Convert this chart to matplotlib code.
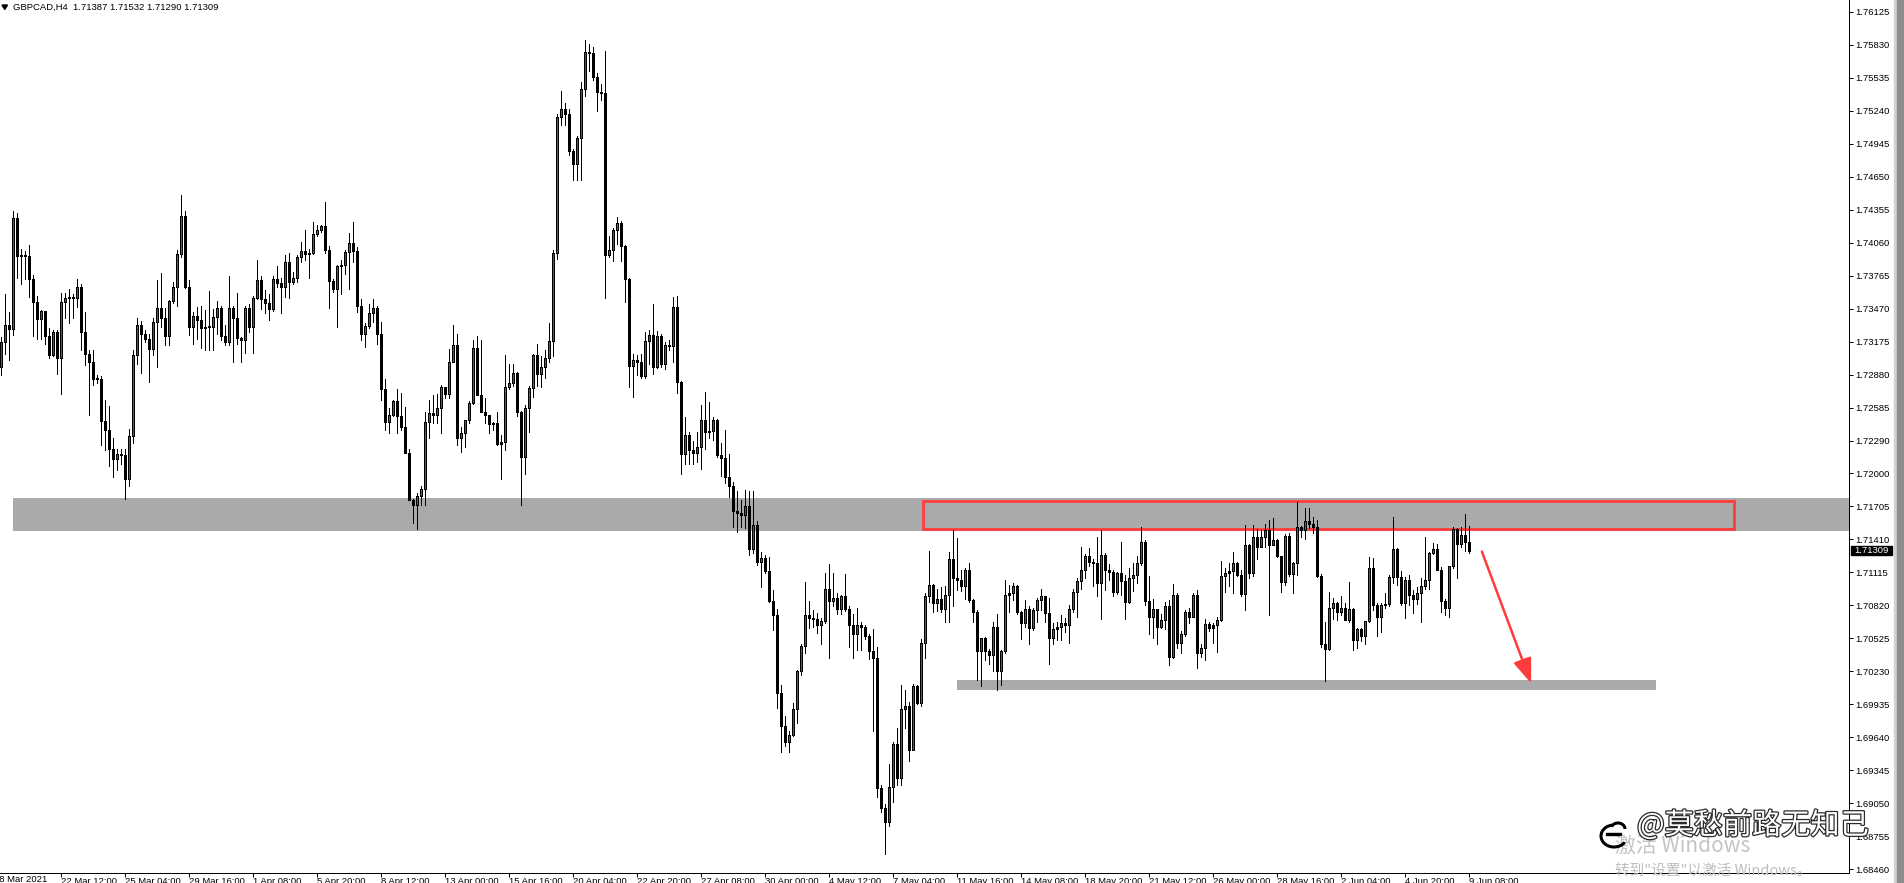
import matplotlib
matplotlib.use('Agg')
import matplotlib.pyplot as plt
from matplotlib.patches import Rectangle, FancyArrowPatch, Polygon, Arc
import matplotlib.patheffects as pe
import numpy as np

W, H = 1904, 883
plt.rcParams['font.family'] = ['Liberation Sans', 'DejaVu Sans']

# ---- data: GBPCAD H4 ----
symbol = 'GBPCAD,H4'
first_open = 1.7295
closes = [
    1.7317, 1.7333, 1.7329, 1.7428, 1.7394, 1.7394, 1.7394, 1.7374, 1.7353, 1.7338,
    1.7345, 1.7323, 1.7306, 1.7326, 1.7303, 1.7353, 1.7357, 1.7357, 1.7357, 1.7367,
    1.7326, 1.7307, 1.7300, 1.7284, 1.7284, 1.7247, 1.7239, 1.7222, 1.7213, 1.7217,
    1.7216, 1.7195, 1.7233, 1.7306, 1.7333, 1.7325, 1.7320, 1.7311, 1.7335, 1.7348,
    1.7339, 1.7323, 1.7354, 1.7367, 1.7396, 1.7430, 1.7367, 1.7331, 1.7341, 1.7337,
    1.7330, 1.7331, 1.7331, 1.7340, 1.7348, 1.7323, 1.7317, 1.7348, 1.7339, 1.7321,
    1.7319, 1.7348, 1.7331, 1.7357, 1.7373, 1.7356, 1.7352, 1.7347, 1.7374, 1.7370,
    1.7367, 1.7389, 1.7371, 1.7375, 1.7393, 1.7399, 1.7396, 1.7397, 1.7414, 1.7418,
    1.7421, 1.7400, 1.7372, 1.7365, 1.7385, 1.7386, 1.7398, 1.7406, 1.7399, 1.7350,
    1.7325, 1.7332, 1.7343, 1.7348, 1.7325, 1.7275, 1.7246, 1.7252, 1.7265, 1.7251,
    1.7241, 1.7218, 1.7176, 1.7172, 1.7180, 1.7186, 1.7246, 1.7254, 1.7252, 1.7258,
    1.7277, 1.7271, 1.7300, 1.7315, 1.7232, 1.7236, 1.7248, 1.7263, 1.7312, 1.7270,
    1.7255, 1.7252, 1.7244, 1.7245, 1.7226, 1.7228, 1.7277, 1.7281, 1.7290, 1.7255,
    1.7215, 1.7258, 1.7276, 1.7306, 1.7289, 1.7295, 1.7303, 1.7318, 1.7397, 1.7519,
    1.7526, 1.7521, 1.7488, 1.7477, 1.7500, 1.7544, 1.7577, 1.7576, 1.7554, 1.7541,
    1.7540, 1.7395, 1.7400, 1.7418, 1.7424, 1.7403, 1.7374, 1.7296, 1.7301, 1.7300,
    1.7287, 1.7318, 1.7324, 1.7295, 1.7323, 1.7298, 1.7315, 1.7314, 1.7349, 1.7282,
    1.7217, 1.7234, 1.7221, 1.7218, 1.7224, 1.7248, 1.7237, 1.7238, 1.7248, 1.7216,
    1.7214, 1.7197, 1.7189, 1.7166, 1.7165, 1.7163, 1.7171, 1.7132, 1.7154, 1.7121,
    1.7124, 1.7113, 1.7086, 1.7073, 1.7004, 1.6974, 1.6960, 1.6966, 1.6989, 1.7023,
    1.7046, 1.7073, 1.7071, 1.7070, 1.7064, 1.7068, 1.7097, 1.7086, 1.7089, 1.7079,
    1.7090, 1.7079, 1.7064, 1.7056, 1.7064, 1.7063, 1.7055, 1.7041, 1.7035, 1.6919,
    1.6901, 1.6888, 1.6920, 1.6958, 1.6928, 1.6989, 1.6992, 1.6953, 1.7010, 1.6995,
    1.7048, 1.7090, 1.7100, 1.7084, 1.7088, 1.7079, 1.7091,
    1.7123, 1.7106, 1.7105, 1.7099, 1.7114, 1.7087, 1.7076, 1.7041, 1.7053, 1.7041,
    1.7038, 1.7063, 1.7023, 1.7041, 1.7091, 1.7093, 1.7099, 1.7076, 1.7066, 1.7079,
    1.7062, 1.7078, 1.7087, 1.7090, 1.7075, 1.7053, 1.7061, 1.7063, 1.7066, 1.7064,
    1.7079, 1.7094, 1.7104, 1.7114, 1.7126, 1.7121, 1.7120, 1.7102, 1.7127, 1.7114,
    1.7112, 1.7094, 1.7111, 1.7104, 1.7085, 1.7106, 1.7109, 1.7120, 1.7139, 1.7086,
    1.7072, 1.7079, 1.7063, 1.7069, 1.7081, 1.7036, 1.7091, 1.7048, 1.7056, 1.7076,
    1.7072,
    1.7091, 1.7039, 1.7044, 1.7065, 1.7062, 1.7064, 1.7069, 1.7108, 1.7111, 1.7113,
    1.7120, 1.7109, 1.7092, 1.7136, 1.7111, 1.7143, 1.7134, 1.7143, 1.7149, 1.7136,
    1.7140, 1.7126, 1.7103, 1.7144, 1.7110, 1.7120, 1.7152, 1.7149, 1.7157, 1.7155,
    1.7152,
    1.7108, 1.7047, 1.7043, 1.7080, 1.7084, 1.7076, 1.7080, 1.7069, 1.7079, 1.7051,
    1.7061, 1.7055, 1.7068, 1.7115, 1.7082, 1.7072, 1.7082, 1.7083, 1.7107, 1.7132,
    1.7107, 1.7084, 1.7105, 1.7091, 1.7088, 1.7093,
    1.7099, 1.7105, 1.7129, 1.7132, 1.7114, 1.7086, 1.7080, 1.7117, 1.7150, 1.7137,
    1.7145, 1.71387, 1.71309,
]
highs = [
    1.7322, 1.7360, 1.7344, 1.7435, 1.7433, 1.7401, 1.7399, 1.7404, 1.7377, 1.7359,
    1.7346, 1.7341, 1.7330, 1.7328, 1.7328, 1.7361, 1.7361, 1.7365, 1.7360, 1.7374,
    1.7369, 1.7344, 1.7310, 1.7310, 1.7288, 1.7287, 1.7266, 1.7260, 1.7232, 1.7222,
    1.7222, 1.7222, 1.7240, 1.7310, 1.7339, 1.7336, 1.7328, 1.7325, 1.7339, 1.7373,
    1.7379, 1.7348, 1.7355, 1.7371, 1.7400, 1.7449, 1.7435, 1.7373, 1.7344, 1.7349,
    1.7350, 1.7346, 1.7363, 1.7347, 1.7354, 1.7350, 1.7333, 1.7376, 1.7350, 1.7361,
    1.7322, 1.7350, 1.7351, 1.7359, 1.7391, 1.7376, 1.7364, 1.7360, 1.7376, 1.7385,
    1.7375, 1.7395, 1.7397, 1.7380, 1.7395, 1.7407, 1.7418, 1.7401, 1.7425, 1.7422,
    1.7422, 1.7443, 1.7403, 1.7374, 1.7386, 1.7391, 1.7400, 1.7415, 1.7425, 1.7402,
    1.7356, 1.7334, 1.7351, 1.7356, 1.7350, 1.7335, 1.7284, 1.7258, 1.7266, 1.7275,
    1.7272, 1.7259, 1.7222, 1.7177, 1.7182, 1.7189, 1.7255, 1.7266, 1.7270, 1.7271,
    1.7279, 1.7277, 1.7311, 1.7333, 1.7325, 1.7241, 1.7248, 1.7265, 1.7319, 1.7323,
    1.7319, 1.7267, 1.7252, 1.7246, 1.7255, 1.7234, 1.7306, 1.7298, 1.7298, 1.7291,
    1.7256, 1.7261, 1.7278, 1.7307, 1.7316, 1.7305, 1.7310, 1.7334, 1.7400, 1.7521,
    1.7542, 1.7531, 1.7526, 1.7490, 1.7502, 1.7550, 1.7587, 1.7584, 1.7581, 1.7558,
    1.7548, 1.7578, 1.7412, 1.7419, 1.7429, 1.7426, 1.7404, 1.7375, 1.7307, 1.7306,
    1.7307, 1.7326, 1.7328, 1.7351, 1.7327, 1.7325, 1.7317, 1.7319, 1.7358, 1.7359,
    1.7283, 1.7250, 1.7237, 1.7229, 1.7237, 1.7261, 1.7273, 1.7264, 1.7250, 1.7249,
    1.7227, 1.7239, 1.7217, 1.7192, 1.7184, 1.7176, 1.7185, 1.7184, 1.7184, 1.7157,
    1.7130, 1.7127, 1.7125, 1.7096, 1.7079, 1.7011, 1.6983, 1.6970, 1.6995, 1.7024,
    1.7047, 1.7103, 1.7086, 1.7078, 1.7075, 1.7071, 1.7111, 1.7119, 1.7111, 1.7093,
    1.7091, 1.7110, 1.7081, 1.7074, 1.7080, 1.7067, 1.7064, 1.7056, 1.7061, 1.7045,
    1.6921, 1.6904, 1.6940, 1.6960, 1.6972, 1.7011, 1.7006, 1.6996, 1.7012, 1.7011,
    1.7052, 1.7093, 1.7131, 1.7101, 1.7097, 1.7098, 1.7099,
    1.7130, 1.7149, 1.7142, 1.7114, 1.7115, 1.7120, 1.7088, 1.7078, 1.7053, 1.7054,
    1.7043, 1.7067, 1.7074, 1.7042, 1.7105, 1.7100, 1.7102, 1.7100, 1.7077, 1.7087,
    1.7081, 1.7080, 1.7089, 1.7097, 1.7088, 1.7089, 1.7066, 1.7067, 1.7073, 1.7071,
    1.7082, 1.7097, 1.7106, 1.7134, 1.7128, 1.7133, 1.7123, 1.7143, 1.7149, 1.7129,
    1.7119, 1.7114, 1.7112, 1.7139, 1.7109, 1.7115, 1.7120, 1.7126, 1.7152, 1.7140,
    1.7108, 1.7088, 1.7072, 1.7074, 1.7085, 1.7087, 1.7101, 1.7093, 1.7059, 1.7078,
    1.7080,
    1.7093, 1.7096, 1.7047, 1.7070, 1.7067, 1.7066, 1.7072, 1.7122, 1.7115, 1.7120,
    1.7130, 1.7121, 1.7114, 1.7154, 1.7137, 1.7154, 1.7150, 1.7149, 1.7155, 1.7158,
    1.7160, 1.7141, 1.7125, 1.7146, 1.7147, 1.7121, 1.7174, 1.7153, 1.7169, 1.7169,
    1.7161,
    1.7158, 1.7110, 1.7067, 1.7094, 1.7089, 1.7085, 1.7090, 1.7084, 1.7103, 1.7080,
    1.7062, 1.7062, 1.7068, 1.7125, 1.7124, 1.7084, 1.7084, 1.7093, 1.7109, 1.7161,
    1.7133, 1.7113, 1.7107, 1.7109, 1.7096, 1.7098,
    1.7106, 1.7143, 1.7130, 1.7138, 1.7137, 1.7116, 1.7088, 1.7117, 1.7152, 1.7151,
    1.7152, 1.7164, 1.71532,
]
lows = [
    1.7288, 1.7307, 1.7301, 1.7324, 1.7375, 1.7369, 1.7374, 1.7358, 1.7323, 1.7320,
    1.7320, 1.7316, 1.7303, 1.7305, 1.7289, 1.7271, 1.7339, 1.7334, 1.7339, 1.7349,
    1.7310, 1.7297, 1.7252, 1.7279, 1.7281, 1.7225, 1.7221, 1.7207, 1.7197, 1.7203,
    1.7208, 1.7177, 1.7189, 1.7227, 1.7298, 1.7290, 1.7317, 1.7282, 1.7306, 1.7295,
    1.7331, 1.7315, 1.7315, 1.7352, 1.7350, 1.7393, 1.7366, 1.7324, 1.7316, 1.7320,
    1.7312, 1.7310, 1.7310, 1.7310, 1.7325, 1.7319, 1.7315, 1.7315, 1.7300, 1.7316,
    1.7300, 1.7308, 1.7326, 1.7308, 1.7356, 1.7347, 1.7343, 1.7337, 1.7345, 1.7367,
    1.7343, 1.7358, 1.7357, 1.7369, 1.7371, 1.7389, 1.7391, 1.7375, 1.7396, 1.7412,
    1.7416, 1.7397, 1.7348, 1.7362, 1.7331, 1.7360, 1.7378, 1.7365, 1.7389, 1.7344,
    1.7319, 1.7313, 1.7330, 1.7335, 1.7316, 1.7266, 1.7239, 1.7236, 1.7251, 1.7236,
    1.7239, 1.7218, 1.7176, 1.7156, 1.7150, 1.7172, 1.7172, 1.7232, 1.7245, 1.7245,
    1.7236, 1.7267, 1.7267, 1.7300, 1.7225, 1.7219, 1.7224, 1.7245, 1.7262, 1.7270,
    1.7255, 1.7245, 1.7236, 1.7239, 1.7225, 1.7195, 1.7221, 1.7275, 1.7278, 1.7251,
    1.7172, 1.7199, 1.7237, 1.7268, 1.7278, 1.7277, 1.7285, 1.7300, 1.7305, 1.7392,
    1.7511, 1.7511, 1.7485, 1.7462, 1.7462, 1.7462, 1.7537, 1.7560, 1.7552, 1.7524,
    1.7534, 1.7357, 1.7393, 1.7390, 1.7405, 1.7390, 1.7353, 1.7277, 1.7268, 1.7288,
    1.7285, 1.7285, 1.7298, 1.7289, 1.7294, 1.7295, 1.7293, 1.7310, 1.7300, 1.7272,
    1.7199, 1.7208, 1.7208, 1.7208, 1.7210, 1.7204, 1.7222, 1.7232, 1.7230, 1.7215,
    1.7198, 1.7191, 1.7179, 1.7152, 1.7148, 1.7152, 1.7151, 1.7127, 1.7129, 1.7118,
    1.7098, 1.7111, 1.7085, 1.7060, 1.6990, 1.6951, 1.6956, 1.6951, 1.6965, 1.6977,
    1.7020, 1.7039, 1.7062, 1.7063, 1.7057, 1.7047, 1.7066, 1.7035, 1.7081, 1.7074,
    1.7074, 1.7077, 1.7045, 1.7035, 1.7042, 1.7042, 1.7052, 1.7034, 1.6970, 1.6911,
    1.6897, 1.6860, 1.6885, 1.6906, 1.6921, 1.6921, 1.6972, 1.6943, 1.6959, 1.6994,
    1.6992, 1.7035, 1.7085, 1.7076, 1.7077, 1.7076, 1.7067,
    1.7067, 1.7081, 1.7096, 1.7095, 1.7088, 1.7085, 1.7067, 1.7015, 1.7010, 1.7033,
    1.7030, 1.7023, 1.7006, 1.7011, 1.7039, 1.7076, 1.7087, 1.7074, 1.7052, 1.7063,
    1.7047, 1.7060, 1.7067, 1.7078, 1.7067, 1.7030, 1.7047, 1.7051, 1.7051, 1.7058,
    1.7048, 1.7076, 1.7072, 1.7097, 1.7106, 1.7117, 1.7099, 1.7090, 1.7070, 1.7096,
    1.7105, 1.7090, 1.7092, 1.7091, 1.7070, 1.7084, 1.7095, 1.7102, 1.7118, 1.7082,
    1.7056, 1.7053, 1.7047, 1.7062, 1.7061, 1.7029, 1.7035, 1.7044, 1.7039, 1.7055,
    1.7066,
    1.7075, 1.7026, 1.7036, 1.7033, 1.7059, 1.7048, 1.7040, 1.7068, 1.7094, 1.7099,
    1.7093, 1.7108, 1.7090, 1.7078, 1.7106, 1.7108, 1.7123, 1.7136, 1.7134, 1.7073,
    1.7138, 1.7125, 1.7094, 1.7100, 1.7108, 1.7093, 1.7109, 1.7143, 1.7141, 1.7151,
    1.7147,
    1.7107, 1.7045, 1.7014, 1.7042, 1.7070, 1.7069, 1.7073, 1.7069, 1.7067, 1.7042,
    1.7044, 1.7050, 1.7047, 1.7067, 1.7078, 1.7055, 1.7058, 1.7080, 1.7081, 1.7102,
    1.7100, 1.7082, 1.7071, 1.7082, 1.7075, 1.7083,
    1.7067, 1.7097, 1.7097, 1.7128, 1.7114, 1.7076, 1.7073, 1.7072, 1.7115, 1.7106,
    1.7134, 1.7131, 1.71290,
]

price_ticks = [1.76125, 1.75830, 1.75535, 1.75240, 1.74945, 1.74650, 1.74355,
               1.74060, 1.73765, 1.73470, 1.73175, 1.72880, 1.72585, 1.72290,
               1.72000, 1.71705, 1.71410, 1.71115, 1.70820, 1.70525, 1.70230,
               1.69935, 1.69640, 1.69345, 1.69050, 1.68755, 1.68460]
time_labels = ['22 Mar 12:00', '25 Mar 04:00', '29 Mar 16:00', '1 Apr 08:00',
               '5 Apr 20:00', '8 Apr 12:00', '13 Apr 00:00', '15 Apr 16:00',
               '20 Apr 04:00', '22 Apr 20:00', '27 Apr 08:00', '30 Apr 00:00',
               '4 May 12:00', '7 May 04:00', '11 May 16:00', '14 May 08:00',
               '18 May 20:00', '21 May 12:00', '26 May 00:00', '28 May 16:00',
               '2 Jun 04:00', '4 Jun 20:00', '9 Jun 08:00']
time_bars = list(range(15, 15 + 16 * len(time_labels), 16))
first_label = '18 Mar 2021'

# drawn objects on the chart (bar index, price)
support_zone = (2.85, 1.71780, 1.71485)          # from bar, top, bottom
range_box = (230.4, 433.2, 1.71750, 1.71500)      # x0, x1, top, bottom
lower_zone = (238.9, 413.7, 1.70153, 1.70063)
arrow_from = (369.9, 1.71324)
arrow_to = (382.7, 1.70099)

n = min(len(closes), len(highs), len(lows))
closes = np.array(closes[:n])
opens = np.concatenate([[first_open], closes[:-1]])
highs = np.maximum.reduce([np.array(highs[:n]), opens, closes])
lows = np.minimum.reduce([np.array(lows[:n]), opens, closes])
x = np.arange(n)

RED = '#ff3c3c'
BULL = '#e3201b'
GREY = '#aaaaaa'
PX = 72 / 100          # one pixel in points
YMIN, YMAX = 1.68427, 1.76232
px_price = (YMAX - YMIN) / 873

fig = plt.figure(figsize=(W / 100, H / 100), dpi=100)
fig.patch.set_facecolor('white')
ax = fig.add_axes([0, 10 / H, 1849 / W, 873 / H])
ax.set_xlim(-0.325, 461.925)
ax.set_ylim(YMIN, YMAX)

# zones
ax.add_patch(Rectangle((support_zone[0], support_zone[2]), 500,
                       support_zone[1] - support_zone[2], color=GREY, lw=0, zorder=0))
ax.add_patch(Rectangle((lower_zone[0], lower_zone[3]), lower_zone[1] - lower_zone[0],
                       lower_zone[2] - lower_zone[3], color=GREY, lw=0, zorder=0))
ax.add_patch(Rectangle((range_box[0], range_box[3]), range_box[1] - range_box[0],
                       range_box[2] - range_box[3], fill=False, edgecolor=RED,
                       lw=2.0, zorder=1))

# candles: wick, black body 3px wide, red core for up bars
body_lo = np.minimum(opens, closes)
body_hi = np.maximum(opens, closes)
body_hi = np.maximum(body_hi, body_lo + px_price)
ax.vlines(x, lows, highs, color='black', linewidth=PX, antialiased=False, zorder=2)
ax.vlines(x, body_lo, body_hi, color='black', linewidth=3 * PX, antialiased=False,
          capstyle='butt', zorder=3)
bull = (closes > opens) & (body_hi - body_lo > 2.5 * px_price)
ax.vlines(x[bull], body_lo[bull] + px_price, body_hi[bull] - px_price, color=BULL,
          linewidth=PX, antialiased=False, capstyle='butt', zorder=4)

# arrow
ax.add_patch(FancyArrowPatch(arrow_from, arrow_to,
                             arrowstyle='-|>,head_length=0.75,head_width=0.28',
                             mutation_scale=20, color=RED, lw=1.8, zorder=5))

# axes styling
for s in ['top', 'left']:
    ax.spines[s].set_visible(False)
for s in ['right', 'bottom']:
    ax.spines[s].set_linewidth(PX)
    ax.spines[s].set_color('black')
ax.yaxis.tick_right()
ax.set_yticks(price_ticks)
ax.set_yticklabels(['%.5f' % p for p in price_ticks])
ax.tick_params(axis='y', direction='out', length=3, width=PX, pad=1.5,
               labelsize=6.8, colors='black')
ax.set_xticks(time_bars)
ax.set_xticklabels(time_labels)
ax.tick_params(axis='x', direction='out', length=3, width=PX, pad=0,
               labelsize=6.8, colors='black')
for lab in ax.get_xticklabels():
    lab.set_horizontalalignment('left')

fig.text(-5.5 / W, 1 - 875 / H, first_label, fontsize=6.8, va='top', ha='left')

# current price marker
last = closes[-1]
ax.add_patch(Rectangle((1 + 2 / 1849, last - 0.00043), 41 / 1849, 0.00086,
                       transform=ax.get_yaxis_transform(), color='black',
                       clip_on=False, zorder=5))
ax.text(1 + 5 / 1849, last, '%.5f' % last, transform=ax.get_yaxis_transform(),
        color='white', fontsize=6.8, va='center', ha='left', zorder=6)

# header
fig.patches.append(Polygon([(2, H - 5), (7.5, H - 5), (4.75, H - 9.5)], closed=True,
                           transform=None, color='black'))
fig.text(12.7 / W, 1 - 7.5 / H,
         '%s  %.5f %.5f %.5f %.5f' % (symbol, opens[-1], highs[-1], lows[-1], last),
         fontsize=6.8, va='center', ha='left')

# scrollbar strip at right
fig.patches.append(Rectangle((1894, 0), 3, H, transform=None, color='#d2d2d2'))
fig.patches.append(Rectangle((1897, 0), 7, H, transform=None, color='#8e8e8e'))

# watermarks
cjk = ['Noto Sans CJK SC', 'DejaVu Sans']
fig.text(1615 / W, 1 - 846 / H, '激活 Windows', fontsize=15, color='#c4c4c4',
         family=cjk, va='center', ha='left', zorder=10)
fig.text(1615 / W, 1 - 871 / H, '转到"设置"以激活 Windows。', fontsize=10.5,
         color='#bdbdbd', family=cjk, va='center', ha='left', zorder=10)
fig.text(1637 / W, 1 - 826 / H, '@莫愁前路无知己', fontsize=21, color='white',
         family=cjk, va='center', ha='left', zorder=11,
         path_effects=[pe.withStroke(linewidth=1.8, foreground='#2b2b2b')])
fig.patches.append(Arc((1614, H - 836), 26, 22, theta1=100, theta2=330,
                       transform=None, color='black', lw=2.2, zorder=11))
fig.patches.append(Arc((1618, H - 829), 14, 12, theta1=0, theta2=160,
                       transform=None, color='black', lw=2.2, zorder=11))
fig.patches.append(Rectangle((1606, H - 835), 15, 2.2, transform=None,
                             color='black', zorder=11))

fig.savefig('out.png', dpi=100)
